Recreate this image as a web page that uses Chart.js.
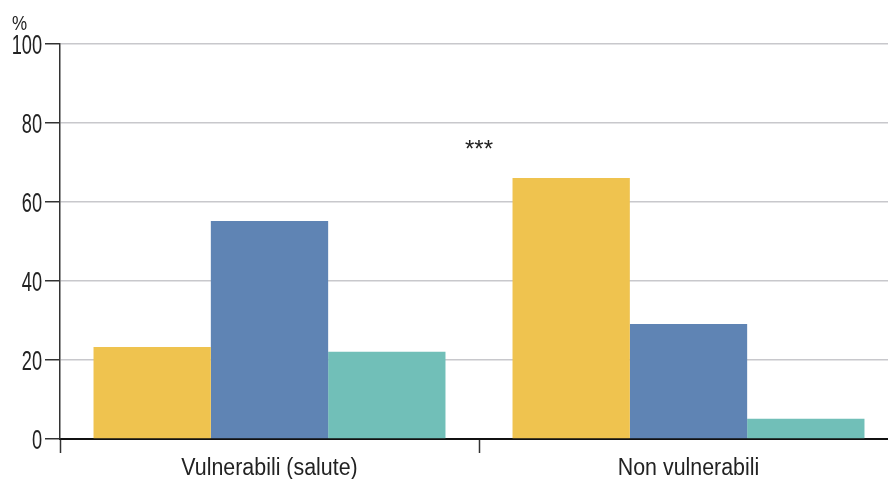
<!DOCTYPE html>
<html>
<head>
<meta charset="utf-8">
<script src="https://cdn.jsdelivr.net/npm/chart.js@4/dist/chart.umd.min.js"></script>
<style>
html,body{margin:0;padding:0;background:#fff;overflow:hidden;width:888px;height:479px;}
#wrap{width:898px;height:479px;position:relative;}
</style>
</head>
<body>
<div id="wrap"><canvas id="c" width="898" height="479"></canvas></div>
<script>
const categories = ["Vulnerabili (salute)", "Non vulnerabili"];
const seriesA = [23.3, 66.1];
const seriesB = [55.2, 29.1];
const seriesC = [22.1, 5.1];
const yTicks = [0, 20, 40, 60, 80, 100];
const yUnit = "%";
const significance = "***";
const significanceValue = 75;

const FONT = "'Liberation Sans', Arial, sans-serif";

function condensedText(ctx, text, x, y, size, sx, align) {
  ctx.save();
  ctx.font = size + 'px ' + FONT;
  const w = ctx.measureText(text).width * sx;
  let left = x;
  if (align === 'right') left = x - w;
  else if (align === 'center') left = x - w / 2;
  ctx.translate(left, y);
  ctx.scale(sx, 1);
  ctx.textAlign = 'left';
  ctx.textBaseline = 'alphabetic';
  ctx.fillText(text, 0, 0);
  ctx.restore();
}

const extras = {
  id: 'extras',
  afterDraw(chart) {
    const ctx = chart.ctx;
    const y = chart.scales.y, x = chart.scales.x;
    ctx.save();
    ctx.fillStyle = '#222';
    y.ticks.forEach(t => {
      const py = y.getPixelForValue(t.value);
      condensedText(ctx, String(t.value), 42, py + 10, 28, 0.65, 'right');
    });
    categories.forEach((lab, i) => {
      condensedText(ctx, lab, x.getPixelForValue(i), 475, 23, 0.93, 'center');
    });
    condensedText(ctx, yUnit, 12, 30, 20, 0.85, 'left');
    const xm = (x.getPixelForValue(0) + x.getPixelForValue(1)) / 2;
    condensedText(ctx, significance, xm, y.getPixelForValue(significanceValue) + 14, 24, 1.0, 'center');
    ctx.restore();
  }
};

new Chart(document.getElementById('c'), {
  type: 'bar',
  data: {
    labels: categories,
    datasets: [
      {data: seriesA, backgroundColor: '#EFC34F'},
      {data: seriesB, backgroundColor: '#5F84B4'},
      {data: seriesC, backgroundColor: '#71BFB8'}
    ]
  },
  options: {
    responsive: false,
    animation: false,
    devicePixelRatio: 1,
    categoryPercentage: 0.84,
    barPercentage: 1.0,
    layout: {padding: {top: 44, left: 0, right: 0, bottom: 0}},
    plugins: {legend: {display: false}, tooltip: {enabled: false}},
    scales: {
      x: {
        offset: true,
        grid: {offset: true, drawOnChartArea: false, drawTicks: true, tickLength: 14, tickColor: '#333', tickWidth: 1.5},
        border: {color: '#111', width: 2},
        ticks: {display: false},
        afterFit(s) { s.height = 40; }
      },
      y: {
        min: 0, max: 100,
        afterBuildTicks(s) { s.ticks = yTicks.map(v => ({value: v})); },
        grid: {color: '#c8c8cc', lineWidth: 1.5, tickLength: 15, tickColor: '#333', tickWidth: 1.5},
        border: {color: '#333', width: 1.5},
        ticks: {display: false},
        afterFit(s) { s.width = 60; }
      }
    }
  },
  plugins: [extras]
});
</script>
</body>
</html>
